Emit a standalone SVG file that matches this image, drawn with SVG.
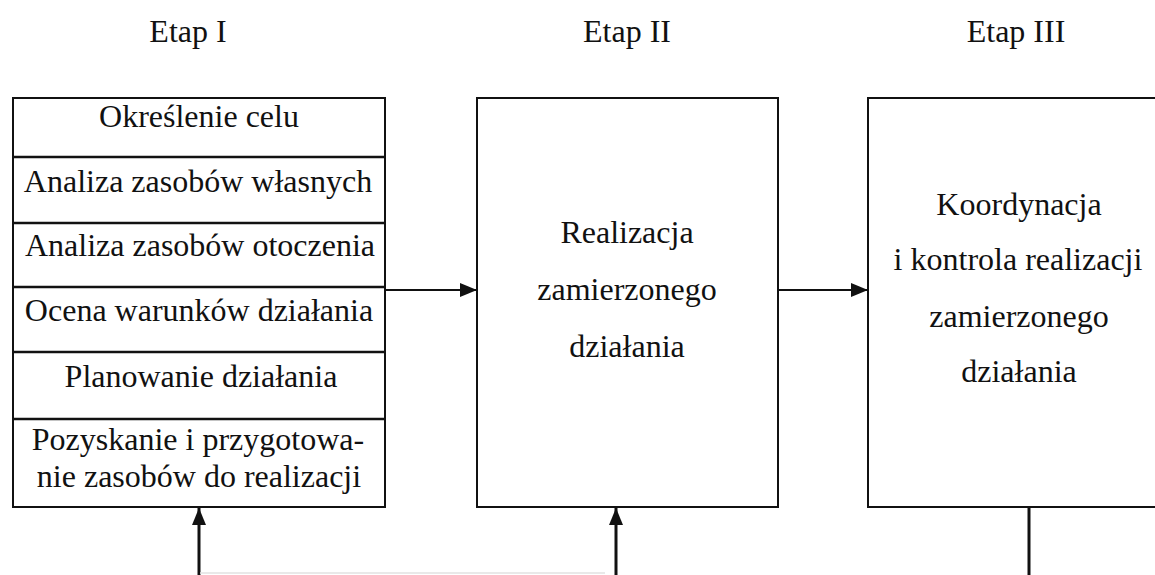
<svg xmlns="http://www.w3.org/2000/svg" width="1155" height="575" viewBox="0 0 1155 575">
  <style>
    .box { fill: #ffffff; stroke: #111111; stroke-width: 2; }
    .div { stroke: #111111; stroke-width: 2.5; }
    .lbl { font-family: "Liberation Serif", "Times New Roman", serif; font-size: 32px; fill: #111111; text-anchor: middle; }
    .hdr { font-family: "Liberation Serif", "Times New Roman", serif; font-size: 32px; fill: #111111; text-anchor: middle; }
    .con { fill: none; stroke: #111111; stroke-width: 2; }
    .conv { fill: none; stroke: #111111; stroke-width: 3; }
  </style>
  <defs>
    <marker id="arrow" viewBox="0 0 17 14" refX="17" refY="7" markerWidth="17" markerHeight="14" markerUnits="userSpaceOnUse" orient="auto">
      <path d="M0,0 L17,7 L0,14 z" fill="#111111"/>
    </marker>
  </defs>
  <rect width="1155" height="575" fill="#ffffff"/>

  <!-- stage headings -->
  <g id="headings">
    <text class="hdr" x="188" y="42">Etap I</text>
    <text class="hdr" x="627" y="42">Etap II</text>
    <text class="hdr" x="1016" y="42">Etap III</text>
  </g>

  <!-- stage I: stacked list of preparatory steps -->
  <g id="stage1">
    <rect class="box" x="13" y="98" width="372" height="409"/>
    <line class="div" x1="13" y1="157" x2="385" y2="157"/>
    <line class="div" x1="13" y1="223" x2="385" y2="223"/>
    <line class="div" x1="13" y1="287" x2="385" y2="287"/>
    <line class="div" x1="13" y1="352" x2="385" y2="352"/>
    <line class="div" x1="13" y1="419" x2="385" y2="419"/>
    <text class="lbl" x="199" y="127">Określenie celu</text>
    <text class="lbl" x="198" y="192">Analiza zasobów własnych</text>
    <text class="lbl" x="200" y="256">Analiza zasobów otoczenia</text>
    <text class="lbl" x="199" y="321">Ocena warunków działania</text>
    <text class="lbl" x="201" y="387">Planowanie działania</text>
    <text class="lbl" x="198" y="450">Pozyskanie i przygotowa-</text>
    <text class="lbl" x="199" y="487">nie zasobów do realizacji</text>
  </g>

  <!-- stage II -->
  <g id="stage2">
    <rect class="box" x="477" y="98" width="301" height="409"/>
    <text class="lbl" x="627" y="243">Realizacja</text>
    <text class="lbl" x="627" y="300">zamierzonego</text>
    <text class="lbl" x="627" y="357">działania</text>
  </g>

  <!-- stage III -->
  <g id="stage3">
    <rect class="box" x="868" y="98" width="302" height="409"/>
    <text class="lbl" x="1019" y="215">Koordynacja</text>
    <text class="lbl" x="1018" y="270">i kontrola realizacji</text>
    <text class="lbl" x="1019" y="327">zamierzonego</text>
    <text class="lbl" x="1019" y="382">działania</text>
  </g>

  <!-- connectors -->
  <g id="connectors">
    <line class="con" x1="385" y1="290" x2="477" y2="290" marker-end="url(#arrow)"/>
    <line class="con" x1="778" y1="290" x2="868" y2="290" marker-end="url(#arrow)"/>
    <line class="conv" x1="199" y1="575" x2="199" y2="508" marker-end="url(#arrow)"/>
    <line class="conv" x1="616" y1="575" x2="616" y2="508" marker-end="url(#arrow)"/>
    <line class="conv" x1="1029" y1="507" x2="1029" y2="575"/>
    <line x1="200" y1="573" x2="605" y2="573" stroke="#e2e2e2" stroke-width="1.5"/>
  </g>
</svg>
